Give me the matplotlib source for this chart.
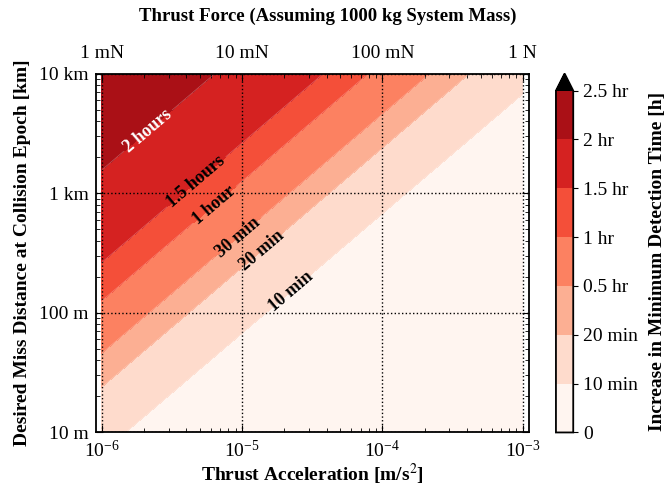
import numpy as np
import matplotlib
matplotlib.use("Agg")
import matplotlib.pyplot as plt
from matplotlib.colors import ListedColormap, BoundaryNorm
from matplotlib.ticker import NullLocator

plt.rcParams["font.family"] = ["Liberation Serif", "DejaVu Serif"]
plt.rcParams["mathtext.fontset"] = "stix"
plt.rcParams["font.size"] = 14

# colour levels (hours) and their colorbar labels
levels = [0, 1/6, 1/3, 0.5, 1.0, 1.5, 2.0, 2.5]
level_labels = ["0", "10 min", "20 min", "0.5 hr", "1 hr", "1.5 hr", "2 hr", "2.5 hr"]

# contour boundaries: miss distance [m] reached at a = 1e-6 m/s^2
# (all boundaries run with slope 1 in log-log space)
boundary_hours = [1/6, 1/3, 0.5, 1.0, 1.5, 2.0]
boundary_dist = [6.8, 24.0, 46.0, 126.0, 263.0, 1560.0]
boundary_text = ["10 min", "20 min", "30 min", "1 hour", "1.5 hours", "2 hours"]

# where the inline labels sit (acceleration, distance)
label_pos = [(2.18e-5, 155), (1.38e-5, 330), (9.3e-6, 430),
             (6.4e-6, 790), (4.8e-6, 1220), (2.15e-6, 3300)]

# axes ranges
accel_range = (1e-6, 1e-3)
dist_range = (10, 1e4)
dist_ticks = [10, 100, 1000, 1e4]
dist_tick_labels = ["10 m", "100 m", "1 km", "10 km"]

# top axis: thrust force for a 1000 kg system
mass = 1000.0
force_ticks = [1e-3, 1e-2, 1e-1, 1.0]
force_labels = ["1 mN", "10 mN", "100 mN", "1 N"]

# field: value depends only on log10(d / a); piecewise linear between read boundaries
acc = np.logspace(np.log10(accel_range[0]), np.log10(accel_range[1]), 400)
dist = np.logspace(np.log10(dist_range[0]), np.log10(dist_range[1]), 400)
A, D = np.meshgrid(acc, dist)
u = np.log10(D) - np.log10(A) + np.log10(accel_range[0])
node_u = np.concatenate([[-2.0], np.log10(boundary_dist), [4.0]])
node_t = np.concatenate([[0.0], boundary_hours, [2.4]])
T = np.interp(u, node_u, node_t)

reds = plt.get_cmap("Reds")
cmap = ListedColormap(reds(np.arange(7) / 7))
cmap.set_over("black")
norm = BoundaryNorm(levels, cmap.N)

fig = plt.figure(figsize=(6.65, 4.87), dpi=100)
ax = fig.add_axes([0.144, 0.112, 0.651, 0.737])
cax = fig.add_axes([0.836, 0.112, 0.026, 0.737])

ax.set_xscale("log")
ax.set_yscale("log")
ax.set_xlim(0.907e-6, 1.10e-3)
ax.set_ylim(*dist_range)

cs = ax.contourf(A, D, T, levels=levels, cmap=cmap, norm=norm, extend="max")
cl = ax.contour(A, D, T, levels=boundary_hours, colors="white",
                linewidths=0.5, alpha=0.3)

fmt = dict(zip(boundary_hours, boundary_text))
texts = ax.clabel(cl, fmt=fmt, manual=label_pos, inline=True, fontsize=13)
for t in texts:
    t.set_fontweight("bold")
    t.set_color("white" if t.get_text() == "2 hours" else "black")

ax.set_yticks(dist_ticks, labels=dist_tick_labels)
ax.set_xticks([1e-6, 1e-5, 1e-4, 1e-3])
ax.grid(True, which="major", color="black", linestyle=":", linewidth=1)
ax.tick_params(which="both", direction="in", top=True, right=True)
ax.tick_params(which="major", length=5, pad=5)
ax.tick_params(which="minor", length=3)
for s in ax.spines.values():
    s.set_linewidth(1.3)

ax.set_xlabel("Thrust Acceleration [m/s$^2$]", fontweight="bold", labelpad=1)
ax.set_ylabel("Desired Miss Distance at Collision Epoch [km]", fontweight="bold", labelpad=6)

secax = ax.secondary_xaxis("top", functions=(lambda a: a * mass, lambda f: f / mass))
secax.set_xticks(force_ticks, labels=force_labels)
secax.xaxis.set_minor_locator(NullLocator())
secax.tick_params(which="both", length=0, pad=8)
secax.spines["top"].set_visible(False)
fig.text(0.493, 0.967, "Thrust Force (Assuming 1000 kg System Mass)",
         fontweight="bold", fontsize=13.5, ha="center", va="center")

cbar = fig.colorbar(cs, cax=cax, ticks=levels)
cbar.set_ticklabels(level_labels)
cbar.outline.set_linewidth(1.3)
cbar.set_label("Increase in Minimum Detection Time [h]", fontweight="bold", labelpad=8)

fig.savefig("out.png", dpi=100)
